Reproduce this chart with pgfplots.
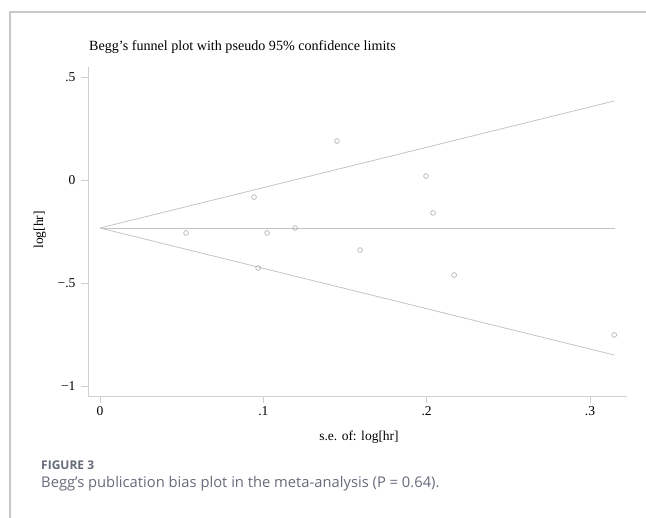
\documentclass[border=0pt]{standalone}
\usepackage{fontspec}
\setmainfont{Liberation Serif}
\newfontfamily\capfont{Open Sans}
\usepackage{pgfplots}
\pgfplotsset{compat=1.18}
\definecolor{frame}{HTML}{C8C8C8}
\definecolor{axgray}{HTML}{CFCFCF}
\definecolor{lngray}{HTML}{C4C4C4}
\definecolor{mkgray}{HTML}{ABABAB}
\definecolor{capgray}{HTML}{656B7A}
\begin{document}
\begin{tikzpicture}[x=1pt,y=1pt]
\path[use as bounding box] (0,0) rectangle (646,518);
% frame
\draw[frame, line width=1.3pt] (10,0) -- (10,506) -- (646,506);
\begin{axis}[
  at={(88pt,122pt)}, anchor=south west,
  scale only axis, width=539pt, height=329pt,
  xmin=-0.00735, xmax=0.32265,
  ymin=-1.0485, ymax=0.5485,
  axis x line*=bottom, axis y line*=left,
  axis line style={axgray, line width=0.8pt},
  every tick/.style={axgray, line width=0.8pt},
  tick align=outside, major tick length=7pt,
  xtick={0,0.1,0.2,0.3}, xticklabels={0,.1,.2,.3},
  ytick={-1,-0.5,0,0.5}, yticklabels={−1,−.5,0,.5},
  tick label style={font=\fontsize{13.5}{15}\selectfont, black},
  yticklabel style={xshift=-2pt},
  /pgf/number format/assume math mode=true,
  clip=false,
]
\addplot[lngray, line width=0.8pt] coordinates {(0,-0.233) (0.315,0.384)};
\addplot[lngray, line width=0.8pt] coordinates {(0,-0.233) (0.315,-0.233)};
\addplot[lngray, line width=0.8pt] coordinates {(0,-0.233) (0.315,-0.850)};
\addplot[only marks, mark=o, mark size=2.4pt, mark options={mkgray, line width=0.6pt}] coordinates {
(0.0527,-0.257) (0.0943,-0.083) (0.0968,-0.427) (0.1023,-0.257) (0.1194,-0.233)
(0.1451,0.189) (0.1592,-0.340) (0.1996,0.019) (0.2039,-0.160) (0.2168,-0.461)
(0.3148,-0.752)};
\end{axis}
% title and axis labels
\node[anchor=west, font=\fontsize{14.1}{16}\selectfont, inner sep=0] at (89,471) {Begg’s funnel plot with pseudo 95\% confidence limits};
\node[rotate=90, font=\fontsize{13.5}{15}\selectfont, inner sep=0] at (40,288) {log[hr]};
\node[font=\fontsize{13.5}{15}\selectfont, inner sep=0] at (359,81) {s.e. of: log[hr]};
% caption
\node[anchor=base west, font=\capfont\bfseries\fontsize{12}{14}\selectfont, text=capgray, inner sep=0] at (41,48) {FIGURE 3};
\node[anchor=base west, font=\capfont\fontsize{14.75}{18}\selectfont, text=capgray, inner sep=0] at (41,30) {Begg’s publication bias plot in the meta-analysis (P = 0.64).};
\end{tikzpicture}
\end{document}
